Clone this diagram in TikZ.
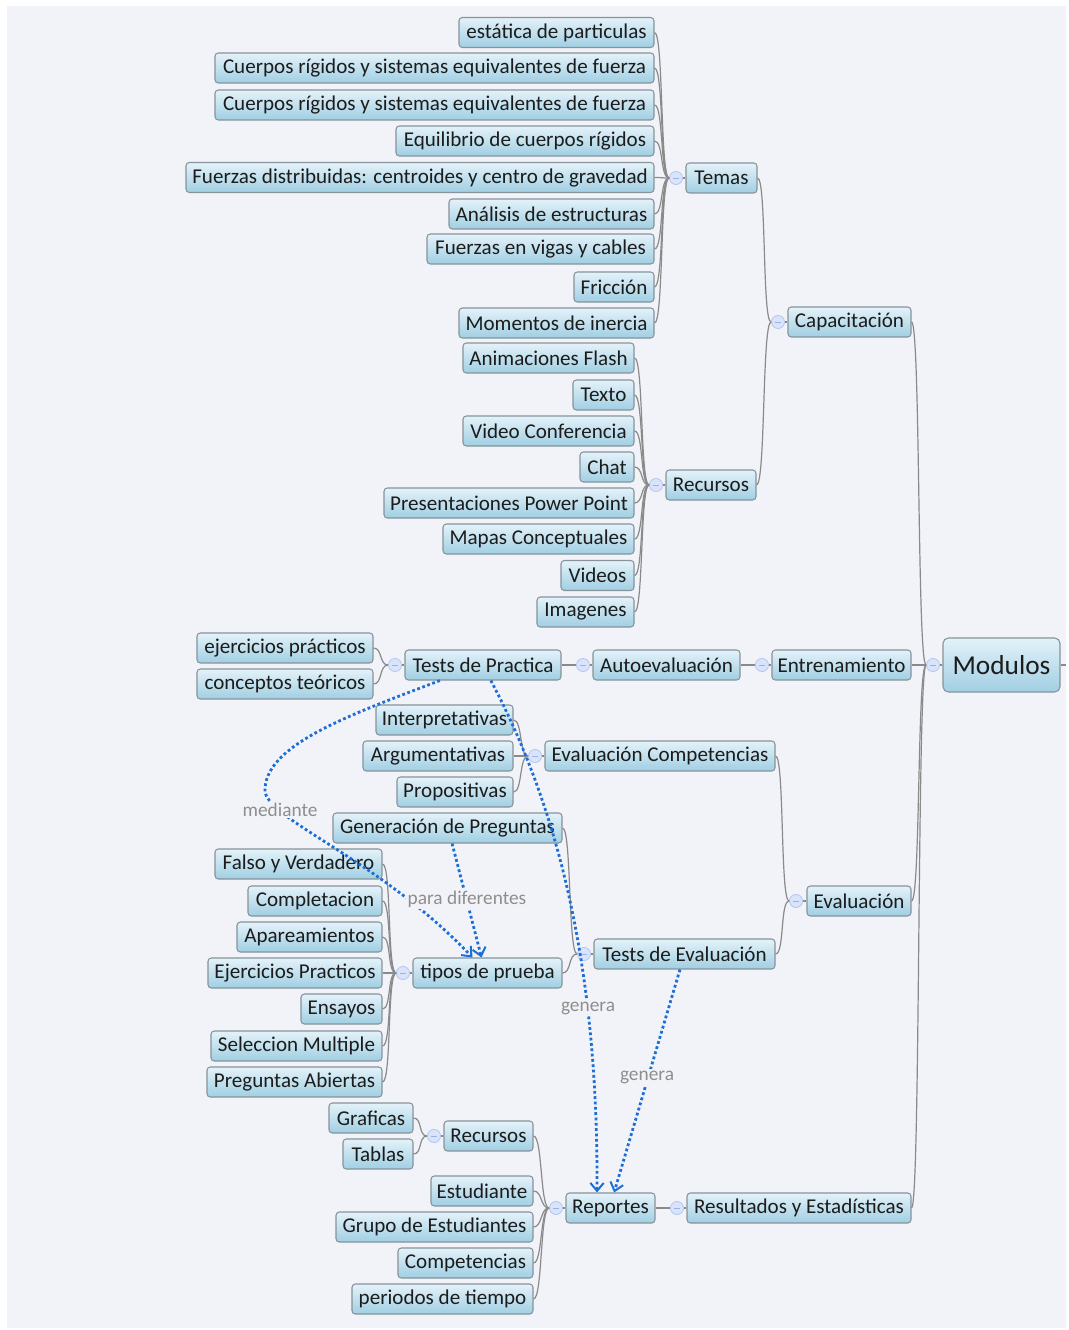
\documentclass[tikz,border=0pt]{standalone}
\usepackage{fontspec}
\setmainfont{Carlito}
\usetikzlibrary{arrows.meta,calc}

\definecolor{paper}{HTML}{F2F3F8}
\definecolor{boxtop}{HTML}{E4F2F9}
\definecolor{boxbot}{HTML}{A0CFE3}
\definecolor{boxedge}{HTML}{86939A}
\definecolor{inktext}{HTML}{1C1C1C}
\definecolor{wiregray}{HTML}{8A8A8A}
\definecolor{knobfill}{HTML}{D9E4FB}
\definecolor{knobedge}{HTML}{B3C7F2}
\definecolor{knobdash}{HTML}{9DB2E2}
\definecolor{relblue}{HTML}{1C6ED8}
\definecolor{reltext}{HTML}{8E8E8E}

\tikzset{
  topic/.style={rectangle, rounded corners=2.5pt, draw=boxedge, line width=0.8pt,
    top color=boxtop, bottom color=boxbot, minimum height=22.5pt, inner sep=0pt,
    text=inktext, font=\fontsize{15.8}{18}\selectfont},
  modfont/.style={minimum height=40.5pt, rounded corners=4pt, font=\fontsize{20.5}{24}\selectfont},
  knob/.style={circle, minimum size=9.8pt, inner sep=0pt, fill=knobfill, draw=knobedge,
    line width=0.6pt,
    path picture={\draw[knobdash, line width=0.7pt]
      ([xshift=-2.3pt]path picture bounding box.center) --
      ([xshift=2.3pt]path picture bounding box.center);}},
  branch/.style={draw=wiregray, line width=0.9pt},
  relation/.style={draw=relblue, line width=2.1pt, dash pattern=on 2.1pt off 1.9pt,
    -{Straight Barb[length=6pt, width=10pt, line width=1.5pt]}},
  rellabel/.style={text=reltext, fill=paper, inner sep=1pt,
    font=\fontsize{14.5}{16}\selectfont},
}

% \topic[extra]{name}{left x}{right x}{centre y}{text}
\newcommand\topic[6][]{\node[topic, minimum width={(#4-#3)*0.75pt}, #1] (#2) at ({(#3+#4)/2},#5) {#6};}
% collapse knob in front of a parent topic
\newcommand\knob[3]{\node[knob] (#1) at (#2,#3) {};}
% curved branch from a child topic to its parent's knob
\newcommand\wire[2]{\draw[branch] (#1.east) .. controls +(9,0) and +(-9,0) .. (#2.west);}

\begin{document}
\begin{tikzpicture}[x=0.75pt,y=-0.75pt]
\useasboundingbox (0,0) rectangle (1068,1330);
\fill[white] (0,0) rectangle (1068,1330);
\fill[paper] (7,6) rectangle (1066,1328);

% ---- Capacitación / Temas
\topic{t1}{459}{654}{32.5}{estática de particulas}
\topic{t2}{215}{654}{68}{Cuerpos rígidos y sistemas equivalentes de fuerza}
\topic{t3}{215}{654}{105}{Cuerpos rígidos y sistemas equivalentes de fuerza}
\topic{t4}{396}{654}{141}{Equilibrio de cuerpos rígidos}
\topic{t5}{186}{654}{177.5}{Fuerzas distribuidas: centroides y centro de gravedad}
\topic{t6}{449}{654}{214}{Análisis de estructuras}
\topic{t7}{427}{654}{249}{Fuerzas en vigas y cables}
\topic{t8}{574}{654}{287}{Fricción}
\topic{t9}{459}{654}{323}{Momentos de inercia}
\topic{temas}{686}{757}{178}{Temas}
\knob{kTemas}{676}{178}
\topic{capac}{788}{911}{322}{Capacitación}
\knob{kCapac}{778}{322}

% ---- Capacitación / Recursos
\topic{r1}{463}{634}{358}{Animaciones Flash}
\topic{r2}{573}{634}{395}{Texto}
\topic{r3}{463}{634}{431}{Video Conferencia}
\topic{r4}{580}{634}{467}{Chat}
\topic{r5}{384}{634}{503}{Presentaciones Power Point}
\topic{r6}{443}{634}{539}{Mapas Conceptuales}
\topic{r7}{561}{634}{575.5}{Videos}
\topic{r8}{537}{634}{612}{Imagenes}
\topic{recursos}{666}{756}{485}{Recursos}
\knob{kRec}{656}{485}

% ---- Entrenamiento
\topic{ej}{197}{373}{648}{ejercicios prácticos}
\topic{ct}{197}{373}{684}{conceptos teóricos}
\topic{tpract}{405}{561}{665}{Tests de Practica}
\knob{kTP}{395}{665}
\topic{autoev}{593}{740}{665}{Autoevaluación}
\knob{kAuto}{583}{665}
\topic{entren}{772}{911}{665}{Entrenamiento}
\knob{kEnt}{762}{665}
\topic[modfont]{modulos}{943}{1060}{665}{Modulos}
\knob{kMod}{933}{665}

% ---- Evaluación
\topic{c1}{376}{513}{720}{Interpretativas}
\topic{c2}{363}{513}{756}{Argumentativas}
\topic{c3}{397}{513}{792}{Propositivas}
\topic{evcomp}{545}{775}{756}{Evaluación Competencias}
\knob{kEC}{535}{756}
\topic{genpreg}{333}{562}{828}{Generación de Preguntas}
\topic{p1}{215}{382}{864}{Falso y Verdadero}
\topic{p2}{248}{382}{901}{Completacion}
\topic{p3}{237}{382}{937}{Apareamientos}
\topic{p4}{208}{382}{973}{Ejercicios Practicos}
\topic{p5}{301}{382}{1009}{Ensayos}
\topic{p6}{211}{382}{1046}{Seleccion Multiple}
\topic{p7}{207}{382}{1082}{Preguntas Abiertas}
\topic{tipos}{413}{562}{973}{tipos de prueba}
\knob{kTipos}{403}{973}
\topic{teval}{594}{775}{954}{Tests de Evaluación}
\knob{kTE}{584}{954}
\topic{evaluac}{807}{911}{901}{Evaluación}
\knob{kEv}{796}{901}

% ---- Resultados y Estadísticas
\topic{g1}{329}{413}{1118}{Graficas}
\topic{g2}{343}{413}{1154}{Tablas}
\topic{recursos2}{444}{533}{1136}{Recursos}
\knob{kRec2}{434}{1136}
\topic{s1}{431}{533}{1191}{Estudiante}
\topic{s2}{336}{533}{1227}{Grupo de Estudiantes}
\topic{s3}{398}{533}{1263}{Competencias}
\topic{s4}{352}{533}{1299}{periodos de tiempo}
\topic{reportes}{566}{655}{1208}{Reportes}
\knob{kRep}{556}{1208}
\topic{result}{687}{911}{1208}{Resultados y Estadísticas}
\knob{kRes}{677}{1208}

% ---- branches: child -> parent knob
\foreach \c in {t1,t2,t3,t4,t5,t6,t7,t8,t9} {\wire{\c}{kTemas}}
\foreach \c in {r1,r2,r3,r4,r5,r6,r7,r8} {\wire{\c}{kRec}}
\foreach \c in {temas,recursos} {\wire{\c}{kCapac}}
\foreach \c in {ej,ct} {\wire{\c}{kTP}}
\wire{tpract}{kAuto}
\wire{autoev}{kEnt}
\foreach \c in {c1,c2,c3} {\wire{\c}{kEC}}
\foreach \c in {p1,p2,p3,p4,p5,p6,p7} {\wire{\c}{kTipos}}
\foreach \c in {genpreg,tipos} {\wire{\c}{kTE}}
\foreach \c in {evcomp,teval} {\wire{\c}{kEv}}
\foreach \c in {g1,g2} {\wire{\c}{kRec2}}
\foreach \c in {recursos2,s1,s2,s3,s4} {\wire{\c}{kRep}}
\wire{reportes}{kRes}
\foreach \c in {capac,entren,evaluac,result} {\wire{\c}{kMod}}

% ---- knob -> its own topic
\foreach \k/\p in {kTemas/temas,kCapac/capac,kRec/recursos,kTP/tpract,kAuto/autoev,
  kEnt/entren,kMod/modulos,kEC/evcomp,kTipos/tipos,kTE/teval,kEv/evaluac,
  kRec2/recursos2,kRep/reportes,kRes/result}
  {\draw[branch] (\k.east) -- (\p.west);}

% ---- Modulos continues past the right edge
\coordinate (beyond) at (1066,665);
\draw[branch] (modulos.east) -- (beyond);

% ---- relationships
\coordinate (medBend) at (265,792);
\draw[relation] ($(tpract.south west)!0.225!(tpract.south east)$)
  .. controls (350,715) and (263,745) .. (medBend)
  .. controls (272,822) and (380,860) ..
  ($(tipos.north west)!0.40!(tipos.north east)$);
\draw[relation] ($(genpreg.south west)!0.52!(genpreg.south east)$) --
  ($(tipos.north west)!0.46!(tipos.north east)$);
\draw[relation] ($(tpract.south west)!0.55!(tpract.south east)$)
  .. controls (570,830) and (598,1000) ..
  ($(reportes.north west)!0.35!(reportes.north east)$);
\draw[relation] ($(teval.south west)!0.475!(teval.south east)$) --
  ($(reportes.north west)!0.54!(reportes.north east)$);

\node[rellabel] (lblMediante) at (280,810) {mediante};
\node[rellabel] (lblPara) at (467,899) {para diferentes};
\node[rellabel] (lblGenera1) at (588,1008) {genera};
\node[rellabel] (lblGenera2) at (647,1077) {genera};
\end{tikzpicture}
\end{document}
